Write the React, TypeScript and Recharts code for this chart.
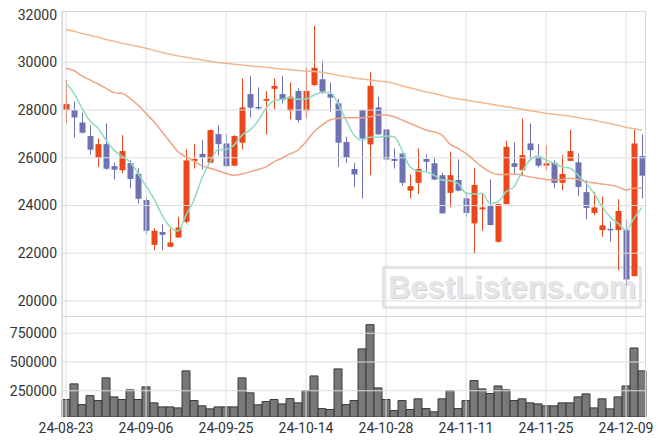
import { ComposedChart, Bar, Line, XAxis, YAxis, ReferenceLine } from "recharts";

const dates = [
  "24-08-23", "24-08-26", "24-08-27", "24-08-28", "24-08-29", "24-08-30",
  "24-09-02", "24-09-03", "24-09-04", "24-09-05", "24-09-06",
  "24-09-09", "24-09-10", "24-09-11", "24-09-12", "24-09-13",
  "24-09-19", "24-09-20", "24-09-23", "24-09-24", "24-09-25",
  "24-09-26", "24-09-27", "24-09-30", "24-10-02", "24-10-04",
  "24-10-07", "24-10-08", "24-10-10", "24-10-11", "24-10-14",
  "24-10-15", "24-10-16", "24-10-17", "24-10-18",
  "24-10-21", "24-10-22", "24-10-23", "24-10-24", "24-10-25", "24-10-28",
  "24-10-29", "24-10-30", "24-10-31", "24-11-01",
  "24-11-04", "24-11-05", "24-11-06", "24-11-07", "24-11-08", "24-11-11",
  "24-11-12", "24-11-13", "24-11-14", "24-11-15",
  "24-11-18", "24-11-19", "24-11-20", "24-11-21", "24-11-22", "24-11-25",
  "24-11-26", "24-11-27", "24-11-28", "24-11-29",
  "24-12-02", "24-12-03", "24-12-04", "24-12-05", "24-12-06", "24-12-09",
  "24-12-10", "24-12-11",
];

const labelDates = ["24-08-23", "24-09-06", "24-09-25", "24-10-14", "24-10-28", "24-11-11", "24-11-25", "24-12-09"];

const opens = [
  28000, 28000, 27480, 26910, 26000, 26570, 25650, 25480, 25780, 25330, 24230,
  22350, 22890, 22270, 22660, 23320, 25860, 26160, 25790, 26990, 26600,
  25670, 26630, 28670, 28130, 28390, 28890, 28670, 27970, 28800, 27970,
  29050, 29290, 28670, 28280, 26660, 25530, 28000, 26560, 28110, 27190,
  25950, 26180, 24620, 24950, 25950, 25770, 25270, 24530, 25070, 24300,
  23250, 23840, 23980, 22480, 24060, 25770, 25480, 26600, 26040, 25670,
  25790, 24950, 25870, 25810, 24560, 23690, 22970, 23020, 22970, 22970,
  21040, 26070,
];

const closes = [
  28250, 27690, 27050, 26340, 26570, 25540, 25500, 26280, 25110, 24280, 22940,
  22940, 22770, 22450, 23080, 25890, 25950, 26000, 27160, 26570, 25650,
  26910, 28110, 28100, 28080, 28460, 29010, 28420, 28560, 27580, 28800,
  29770, 28770, 28520, 26630, 26000, 25300, 26810, 29010, 26980, 25930,
  25870, 24950, 24810, 25530, 25830, 25090, 23670, 25270, 24620, 23690,
  24860, 23920, 23180, 24060, 26460, 25620, 26110, 26320, 25670, 25770,
  24950, 25320, 26280, 24780, 23900, 23920, 23170, 22970, 23770, 20900,
  26600, 25250,
];

const highs = [
  29260, 28350, 27890, 27360, 26810, 27440, 25790, 26950, 25900, 25560, 24370,
  23040, 23220, 23040, 23530, 26350, 26570, 26740, 27190, 27360, 26980,
  26950, 29330, 29440, 28950, 28800, 29330, 29440, 29160, 28910, 29770,
  31520, 30070, 29160, 28460, 26880, 25790, 28010, 29580, 28560, 27200,
  26390, 26200, 25300, 26390, 26140, 26020, 25370, 26250, 25930, 24570,
  25560, 24530, 25090, 24070, 26710, 26650, 27650, 27440, 26570, 26530,
  25900, 26110, 27160, 26180, 25070, 24570, 24370, 23320, 24260, 23420,
  27160, 26980,
];

const lows = [
  27450, 26840, 27020, 26130, 25620, 25500, 25090, 25370, 24720, 24090, 22790,
  22130, 22130, 22260, 22650, 23250, 25550, 25510, 25780, 26100, 25620,
  25650, 26350, 27690, 28000, 26980, 28030, 28280, 27610, 27480, 27650,
  29000, 28670, 27930, 25620, 25790, 24780, 24300, 25270, 26970, 25900,
  25550, 24810, 24300, 24480, 25410, 25060, 23660, 23920, 24600, 23550,
  21990, 22940, 23170, 22440, 24050, 25320, 25230, 25900, 25600, 25480,
  24720, 24650, 25860, 24390, 23420, 23600, 22690, 22480, 21290, 20660,
  21030, 24300,
];

const volumes = [
  174000, 310000, 130000, 208000, 165000, 362000, 197000, 174000, 258000, 174000, 284000,
  145000, 110000, 110000, 101000, 423000, 165000, 119000, 93000, 110000, 110000,
  110000, 362000, 232000, 128000, 156000, 174000, 136000, 182000, 145000, 252000,
  379000, 95000, 87000, 440000, 130000, 165000, 614000, 825000, 275000, 174000,
  78000, 165000, 87000, 180000, 95000, 67000, 180000, 252000, 95000, 165000,
  339000, 266000, 226000, 292000, 258000, 165000, 180000, 145000, 136000, 119000,
  119000, 145000, 145000, 197000, 223000, 101000, 180000, 93000, 197000, 292000,
  622000, 423000,
];

const ma5 = [
  29120, 28700, 28080, 27540, 27250, 26740, 26320, 26070, 25820, 25350, 24810,
  24290, 23600, 23110, 22930, 23600, 24230, 25150, 25820, 26340, 26350,
  26530, 26950, 27160, 27540, 28070, 28390, 28450, 28520, 28450, 28460,
  28630, 28740, 28730, 28280, 27580, 26950, 26740, 26860, 26860, 26910,
  26880, 26320, 25620, 25440, 25410, 25270, 25070, 25040, 24930, 24510,
  24480, 24510, 24090, 24160, 24570, 24780, 25410, 25900, 26070, 25900,
  25770, 25620, 25560, 25270, 24930, 24510, 23950, 23530, 23250, 22970,
  23460, 23920,
];

const ma20 = [
  29750, 29650, 29430, 29260, 29090, 28910, 28730, 28700, 28490, 28210, 27860,
  27510, 27090, 26670, 26250, 26040, 25870, 25660, 25560, 25460, 25350,
  25270, 25320, 25410, 25510, 25620, 25830, 25980, 26160, 26320, 26670,
  27090, 27370, 27580, 27650, 27680, 27680, 27680, 27720, 27790, 27790,
  27720, 27580, 27440, 27300, 27160, 27090, 26950, 26570, 26390, 26180,
  25900, 25620, 25410, 25300, 25300, 25320, 25270, 25200, 25140, 25090,
  25070, 25090, 25140, 25090, 24990, 24950, 24900, 24860, 24780, 24650,
  24720, 24720,
];

const ma60 = [
  31380, 31300, 31210, 31130, 31050, 30960, 30880, 30800, 30730, 30660, 30590,
  30500, 30410, 30340, 30270, 30210, 30150, 30100, 30040, 29990, 29960,
  29920, 29890, 29850, 29820, 29790, 29750, 29720, 29690, 29660, 29640,
  29610, 29580, 29520, 29460, 29400, 29340, 29300, 29260, 29220, 29190,
  29110, 29020, 28930, 28840, 28760, 28690, 28610, 28530, 28470, 28420,
  28360, 28310, 28250, 28190, 28140, 28090, 28030, 27970, 27920, 27860,
  27820, 27780, 27740, 27690, 27630, 27570, 27500, 27440, 27360, 27280,
  27220, 27160,
];

const priceTicks = [20000, 22000, 24000, 26000, 28000, 30000, 32000];
const priceGrid = [20000, 22000, 24000, 26000, 28000, 30000];
const volumeTicks = [250000, 500000, 750000];

const UP = "#E8481A";
const DOWN = "#6E72B2";
const GRID = "#DEDEDE";
const TEXT = "#333";

const rows = dates.map((date, i) => ({
  date,
  open: opens[i],
  close: closes[i],
  high: highs[i],
  low: lows[i],
  range: [lows[i], highs[i]],
  volume: volumes[i],
  ma5: ma5[i],
  ma20: ma20[i],
  ma60: ma60[i],
}));

function Candle(props: any) {
  const { x, y, width, height, payload } = props;
  if (!payload) return null;
  const { open, close, high, low } = payload;
  const color = close >= open ? UP : DOWN;
  const cx = Math.round(x + width / 2) + 0.5;
  const span = high - low || 1;
  const py = (v: number) => y + ((high - v) / span) * height;
  const top = py(Math.max(open, close));
  const bot = py(Math.min(open, close));
  return (
    <g>
      <line x1={cx} x2={cx} y1={y} y2={y + height} stroke={color} strokeWidth={1} />
      <rect x={cx - 3} y={top} width={6} height={Math.max(bot - top, 1.5)} fill={color} />
    </g>
  );
}

export default function App() {
  return (
    <div style={{ position: "absolute", left: 0, top: 0, width: 663, height: 446, background: "#fff", fontFamily: "Roboto, sans-serif" }}>
      {/* watermark, behind the charts */}
      <div
        style={{
          position: "absolute",
          left: 382,
          top: 266,
          width: 260,
          height: 43,
          boxSizing: "border-box",
          border: "3px solid #E3E3E3",
          borderRadius: 2,
          fontFamily: "'Liberation Sans', Arial, sans-serif",
          fontWeight: 700,
          fontSize: 31,
          lineHeight: "37px",
          textAlign: "center",
          color: "#E6E6E6",
          textShadow: "1px 1px 0 #D2D2D2",
        }}
      >
        BestListens.com
      </div>

      <div style={{ position: "absolute", left: 0, top: 0 }}>
        <ComposedChart width={663} height={316} data={rows} margin={{ top: 11, right: 17, bottom: 0, left: 0 }}>
          <XAxis dataKey="date" hide />
          <YAxis
            domain={[19370, 32150]}
            allowDataOverflow
            ticks={priceTicks}
            width={62}
            tickLine={false}
            tickSize={3}
            tickMargin={2}
            axisLine={{ stroke: "#CCCCCC" }}
            tick={{ fill: TEXT, fontSize: 14 }}
          />
          {priceGrid.map((v) => (
            <ReferenceLine key={v} y={v} stroke={GRID} />
          ))}
          {labelDates.map((d) => (
            <ReferenceLine key={d} x={d} stroke={GRID} />
          ))}
          <Line type="monotone" dataKey="ma60" stroke="#F2B88E" strokeWidth={1.5} dot={false} isAnimationActive={false} />
          <Line type="monotone" dataKey="ma20" stroke="#EFA485" strokeWidth={1.5} dot={false} isAnimationActive={false} />
          <Line type="monotone" dataKey="ma5" stroke="#8FDBBE" strokeWidth={1.5} dot={false} isAnimationActive={false} />
          <Bar dataKey="range" shape={<Candle />} isAnimationActive={false} />
        </ComposedChart>
      </div>

      <div style={{ position: "absolute", left: 0, top: 316 }}>
        <ComposedChart width={663} height={130} data={rows} margin={{ top: 0, right: 17, bottom: 0, left: 0 }} barCategoryGap={0}>
          <XAxis
            dataKey="date"
            ticks={labelDates}
            interval={0}
            height={29}
            tickLine={false}
            axisLine={false}
            tickMargin={0}
            tick={{ fill: TEXT, fontSize: 14 }}
          />
          <YAxis
            domain={[22000, 900000]}
            allowDataOverflow
            ticks={volumeTicks}
            width={62}
            tickLine={false}
            tickSize={3}
            tickMargin={2}
            axisLine={{ stroke: "#CCCCCC" }}
            tick={{ fill: TEXT, fontSize: 14 }}
          />
          {volumeTicks.map((v) => (
            <ReferenceLine key={v} y={v} stroke={GRID} />
          ))}
          {labelDates.map((d) => (
            <ReferenceLine key={d} x={d} stroke={GRID} />
          ))}
          <Bar dataKey="volume" fill="#787878" stroke="#3A3A3A" strokeWidth={1} isAnimationActive={false} />
        </ComposedChart>
      </div>

      {/* panel frames */}
      <div style={{ position: "absolute", left: 62, top: 11, width: 584, height: 306, boxSizing: "border-box", border: "1px solid #D6D6D6", pointerEvents: "none" }} />
      <div style={{ position: "absolute", left: 62, top: 316, width: 584, height: 101, boxSizing: "border-box", borderLeft: "1px solid #D6D6D6", borderRight: "1px solid #D6D6D6", pointerEvents: "none" }} />
    </div>
  );
}
